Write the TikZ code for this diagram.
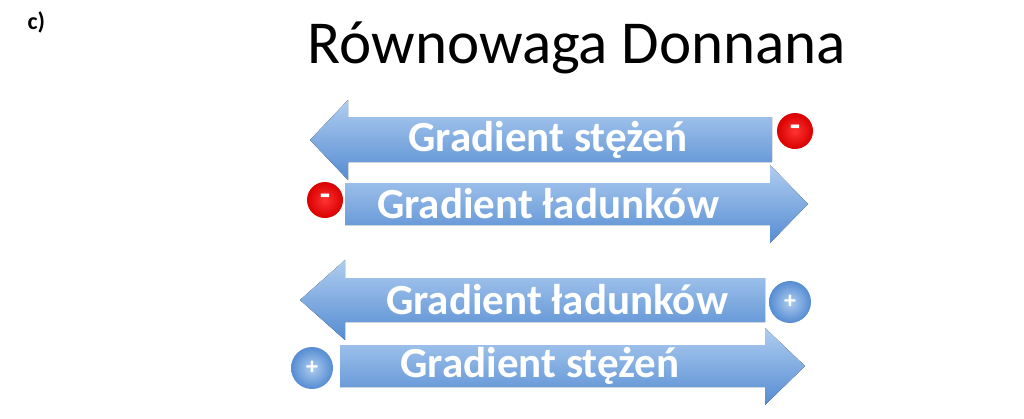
\documentclass[tikz,border=0pt]{standalone}
\usepackage{fontspec}
\setmainfont{Carlito}
\begin{document}
\begin{tikzpicture}[x=1pt,y=-1pt,
  lbl/.style={text=white,font=\bfseries\fontsize{43}{45}\selectfont},
  minus/.style={circle,minimum size=36pt,inner sep=0pt,inner color=red!80!white,outer color=red!85!black,text=white,font=\bfseries\fontsize{34}{34}\selectfont},
  plus/.style={circle,minimum size=42pt,inner sep=0pt,inner color=ab1,outer color=ab2,text=white,font=\bfseries\fontsize{24}{24}\selectfont}]
\definecolor{ab1}{RGB}{175,205,240}\definecolor{ab2}{RGB}{85,140,210}
\tikzset{arr/.style={top color=ab1, bottom color=ab2, draw=none}}
\useasboundingbox[fill=white] (0,0) rectangle (1024,418);
\node[font=\bfseries\fontsize{24}{24}\selectfont,anchor=west] (c) at (24,22) {c)};
\node[font=\fontsize{61}{63}\selectfont] (t) at (577,48) {Równowaga Donnana};
\fill[arr] (310,140) -- (348,100) -- (348,117) -- (772,117) -- (772,162) -- (348,162) -- (348,180) -- cycle;
\node[lbl] (a1) at (548,140) {Gradient stężeń};
\node[minus] (m1) at (795,131) {-};
\fill[arr] (808,204) -- (770,165) -- (770,183) -- (345,183) -- (345,225) -- (770,225) -- (770,243) -- cycle;
\node[lbl] (a2) at (548,204) {Gradient ładunków};
\node[minus] (m2) at (325,200) {-};
\fill[arr] (300,300) -- (345,260) -- (345,278) -- (765,278) -- (765,322) -- (345,322) -- (345,340) -- cycle;
\node[lbl] (a3) at (557,300) {Gradient ładunków};
\node[plus] (p1) at (790,302) {+};
\fill[arr] (805,366) -- (765,328) -- (765,345) -- (340,345) -- (340,387) -- (765,387) -- (765,405) -- cycle;
\node[lbl] (a4) at (540,366) {Gradient stężeń};
\node[plus] (p2) at (312,368) {+};
\end{tikzpicture}
\end{document}
